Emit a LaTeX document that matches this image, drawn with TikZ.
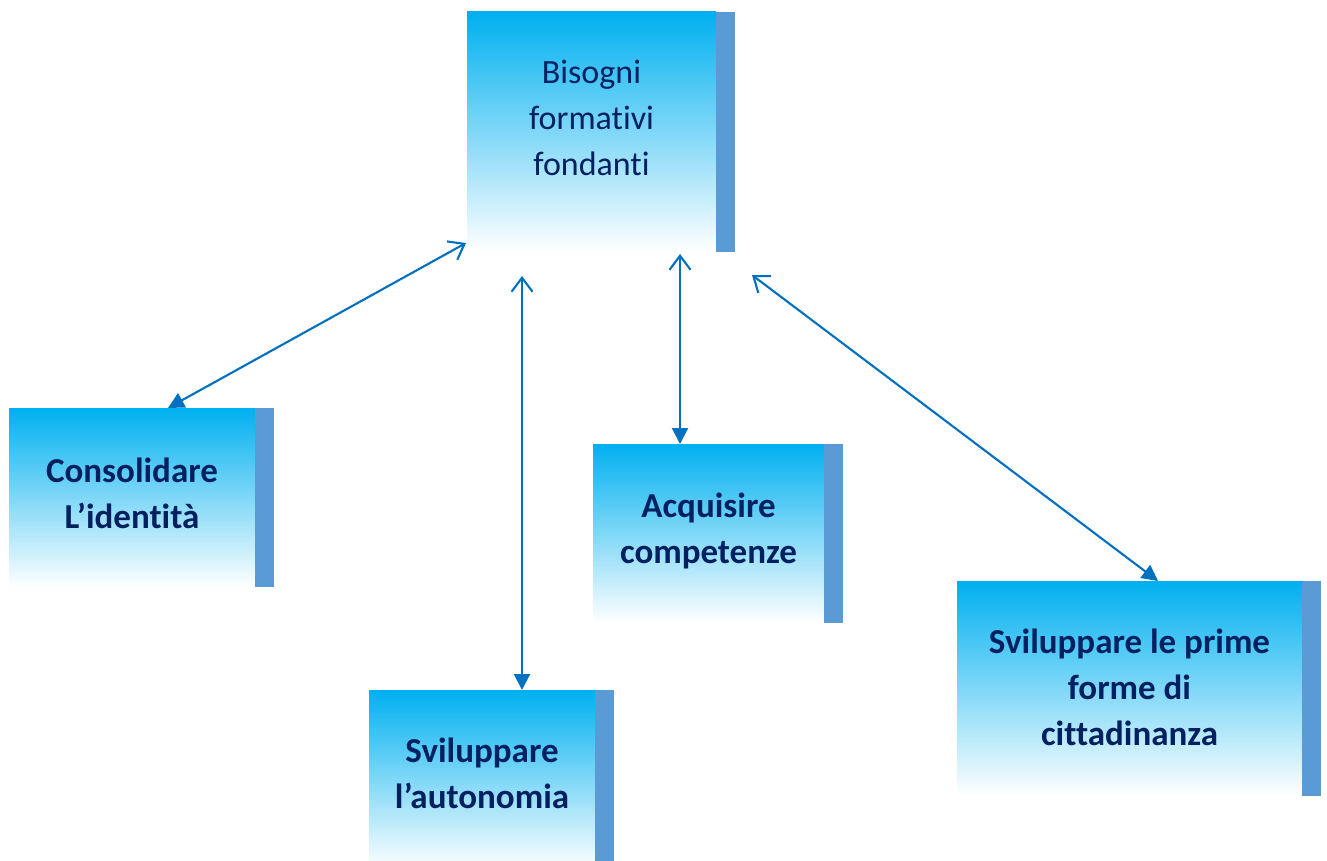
\documentclass[tikz,border=0pt]{standalone}
\usepackage{fontspec}
\setmainfont[Ligatures={NoCommon,NoContextual,NoRequired,NoRare}]{Carlito}
\usetikzlibrary{arrows.meta,calc}
\definecolor{topc}{HTML}{00B0F0}
\definecolor{barc}{HTML}{5B9BD5}
\definecolor{txtc}{HTML}{002060}
\definecolor{arrc}{HTML}{0070C0}
\newcommand\mlines[1]{\vtop{\halign{\hfil##\hfil\cr#1\crcr}}}
\begin{document}
\begin{tikzpicture}[x=1pt,y=-1pt,
  boxn/.style={rectangle, inner sep=0pt, outer sep=0pt, draw=none,
    top color=topc, bottom color=white, anchor=north west},
  txtmain/.style={inner sep=0pt, anchor=base, text=txtc, font={\fontsize{34}{46}\selectfont}},
  txtsub/.style={inner sep=0pt, anchor=base, text=txtc, font={\fontsize{35}{46}\selectfont\bfseries}},
  conn/.style={draw=arrc, line width=2.1pt,
    {Triangle[length=16pt,width=16pt]}-{Straight Barb[length=14pt,width=21pt,line width=2.1pt]}}
]
\useasboundingbox (0,0) rectangle (1327,861);
\clip (0,0) rectangle (1327,861);
\fill[white] (0,0) rectangle (1327,861);
% boxes
\node[boxn, minimum width=249pt, minimum height=240pt] (top) at (467,12) {};
\node[boxn, minimum width=246pt, minimum height=179pt] (cons) at (9,408) {};
\node[boxn, minimum width=231pt, minimum height=179pt] (acq) at (593,444) {};
\node[boxn, minimum width=345pt, minimum height=215pt] (cit) at (957,581) {};
\node[boxn, minimum width=226pt, minimum height=179pt] (aut) at (369,690) {};
% side bars
\foreach \b in {top,cons,acq,cit,aut}{
  \fill[barc] (\b.north east) rectangle ([xshift=19pt]\b.south east);
}
% texts
\node[txtmain] (ttop) at (591.5,84) {\mlines{Bisogni\cr formativi\cr fondanti}};
\node[txtsub] (tcons) at (132,482) {\mlines{Consolidare\cr L’identità}};
\node[txtsub] (tacq) at (708.5,517) {\mlines{Acquisire\cr competenze}};
\node[txtsub] (tcit) at (1129.5,653) {\mlines{Sviluppare le prime\cr forme di\cr cittadinanza}};
\node[txtsub] (taut) at (482,762) {\mlines{Sviluppare\cr l’autonomia}};
% connectors
\draw[conn] ([xshift=36pt]cons.north) -- ([shift={(-1pt,9pt)}]top.south west);
\draw[conn] ([xshift=40pt]aut.north) -- ([shift={(-69.5pt,-24pt)}]top.south);
\draw[conn] ([xshift=-28.5pt]acq.north) -- ([shift={(88.5pt,-2pt)}]top.south);
\draw[conn] ([xshift=28.5pt]cit.north) -- ([shift={(160.5pt,-23pt)}]top.south);
\end{tikzpicture}
\end{document}
